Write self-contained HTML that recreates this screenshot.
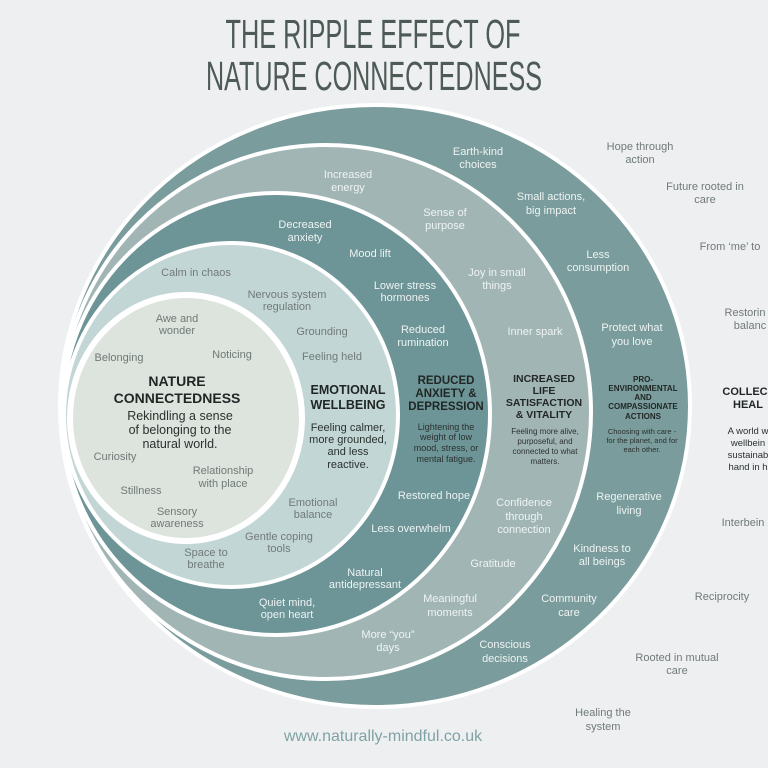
<!DOCTYPE html>
<html><head><meta charset="utf-8"><style>
html,body{margin:0;padding:0;background:#eeeff1;}
svg{display:block;font-family:"Liberation Sans",sans-serif;}
.g{fill:#707a78;font-size:11px;text-anchor:middle}
.w{fill:#eef3f3;font-size:11px;text-anchor:middle}
.h{fill:#1f2624;font-weight:bold;text-anchor:middle}
.d{fill:#2a3230;text-anchor:middle}
</style></head><body>
<svg width="768" height="768" viewBox="0 0 768 768">
<rect width="768" height="768" fill="#eeeff1"/>
<text x="373" y="48" font-size="41" fill="#4d5a55" text-anchor="middle" textLength="295" lengthAdjust="spacingAndGlyphs">THE RIPPLE EFFECT OF</text>
<text x="374" y="90" font-size="41" fill="#4d5a55" text-anchor="middle" textLength="336" lengthAdjust="spacingAndGlyphs">NATURE CONNECTEDNESS</text>

<ellipse cx="375" cy="406" rx="315" ry="301" fill="#7b9c9c" stroke="#fff" stroke-width="4"/>
<ellipse cx="326" cy="412" rx="265" ry="267" fill="#a2b5b5" stroke="#fff" stroke-width="4"/>
<ellipse cx="276" cy="414" rx="214" ry="221" fill="#6d9496" stroke="#fff" stroke-width="4"/>
<ellipse cx="231" cy="415" rx="167" ry="172" fill="#c3d6d6" stroke="#fff" stroke-width="4"/>
<ellipse cx="186" cy="418" rx="116" ry="123" fill="#dde3dd" stroke="#fff" stroke-width="6"/>

<!-- outer labels -->
<g class="g" font-size="11.5">
<text x="640" y="150">Hope through</text><text x="640" y="163">action</text>
<text x="705" y="190">Future rooted in</text><text x="705" y="203">care</text>
<text x="730" y="250">From ‘me’ to</text>
<text x="745" y="316">Restorin</text><text x="750" y="329">balanc</text>
<text x="743" y="526">Interbein</text>
<text x="722" y="600">Reciprocity</text>
<text x="677" y="661">Rooted in mutual</text><text x="677" y="674">care</text>
<text x="603" y="716">Healing the</text><text x="603" y="730">system</text>
</g>
<text x="745" y="395" class="h" font-size="11">COLLEC</text>
<text x="748" y="408" class="h" font-size="11">HEAL</text>
<g class="d" font-size="9.5">
<text x="748" y="434">A world w</text><text x="748" y="446">wellbein</text><text x="748" y="458">sustainab</text><text x="748" y="470">hand in h</text>
</g>

<!-- pro-env ring -->
<g class="w" font-size="11.5">
<text x="478" y="155">Earth-kind</text><text x="478" y="168">choices</text>
<text x="551" y="200">Small actions,</text><text x="551" y="214">big impact</text>
<text x="598" y="258">Less</text><text x="598" y="271">consumption</text>
<text x="632" y="331">Protect what</text><text x="632" y="345">you love</text>
<text x="629" y="500">Regenerative</text><text x="629" y="514">living</text>
<text x="602" y="552">Kindness to</text><text x="602" y="565">all beings</text>
<text x="569" y="602">Community</text><text x="569" y="616">care</text>
<text x="505" y="648">Conscious</text><text x="505" y="662">decisions</text>
</g>
<g class="h" font-size="8">
<text x="643" y="382">PRO-</text><text x="643" y="391">ENVIRONMENTAL</text><text x="643" y="400">AND</text><text x="643" y="409">COMPASSIONATE</text><text x="643" y="419">ACTIONS</text>
</g>
<g class="d" font-size="7.5">
<text x="642" y="434">Choosing with care -</text><text x="642" y="443">for the planet, and for</text><text x="642" y="452">each other.</text>
</g>

<!-- life satisfaction ring -->
<g class="w" font-size="11.5">
<text x="348" y="178">Increased</text><text x="348" y="191">energy</text>
<text x="445" y="216">Sense of</text><text x="445" y="229">purpose</text>
<text x="497" y="276">Joy in small</text><text x="497" y="289">things</text>
<text x="535" y="335">Inner spark</text>
<text x="524" y="506">Confidence</text><text x="524" y="520">through</text><text x="524" y="533">connection</text>
<text x="493" y="567">Gratitude</text>
<text x="450" y="602">Meaningful</text><text x="450" y="616">moments</text>
<text x="388" y="638">More “you”</text><text x="388" y="651">days</text>
</g>
<g class="h" font-size="10.5">
<text x="544" y="382">INCREASED</text><text x="544" y="394">LIFE</text><text x="544" y="406">SATISFACTION</text><text x="544" y="418">&amp; VITALITY</text>
</g>
<g class="d" font-size="8">
<text x="545" y="434">Feeling more alive,</text><text x="545" y="444">purposeful, and</text><text x="545" y="454">connected to what</text><text x="545" y="464">matters.</text>
</g>

<!-- reduced anxiety ring -->
<g class="w" font-size="11">
<text x="305" y="228">Decreased</text><text x="305" y="241">anxiety</text>
<text x="370" y="257">Mood lift</text>
<text x="405" y="289">Lower stress</text><text x="405" y="301">hormones</text>
<text x="423" y="333">Reduced</text><text x="423" y="346">rumination</text>
<text x="434" y="499">Restored hope</text>
<text x="411" y="532">Less overwhelm</text>
<text x="365" y="576">Natural</text><text x="365" y="588">antidepressant</text>
<text x="287" y="606">Quiet mind,</text><text x="287" y="618">open heart</text>
</g>
<g class="h" font-size="11.5">
<text x="446" y="384">REDUCED</text><text x="446" y="397">ANXIETY &amp;</text><text x="446" y="410">DEPRESSION</text>
</g>
<g class="d" font-size="9">
<text x="446" y="430">Lightening the</text><text x="446" y="440">weight of low</text><text x="446" y="451">mood, stress, or</text><text x="446" y="462">mental fatigue.</text>
</g>

<!-- emotional ring -->
<g class="g" font-size="11">
<text x="196" y="276">Calm in chaos</text>
<text x="287" y="298">Nervous system</text><text x="287" y="310">regulation</text>
<text x="322" y="335">Grounding</text>
<text x="332" y="360">Feeling held</text>
<text x="313" y="506">Emotional</text><text x="313" y="518">balance</text>
<text x="279" y="540">Gentle coping</text><text x="279" y="552">tools</text>
<text x="206" y="556">Space to</text><text x="206" y="568">breathe</text>
</g>
<g class="h" font-size="12.5">
<text x="348" y="394">EMOTIONAL</text><text x="348" y="409">WELLBEING</text>
</g>
<g class="d" font-size="11">
<text x="348" y="431">Feeling calmer,</text><text x="348" y="443">more grounded,</text><text x="348" y="455">and less</text><text x="348" y="468">reactive.</text>
</g>

<!-- nature core -->
<g class="g" font-size="11">
<text x="177" y="322">Awe and</text><text x="177" y="334">wonder</text>
<text x="119" y="361">Belonging</text>
<text x="232" y="358">Noticing</text>
<text x="115" y="460">Curiosity</text>
<text x="223" y="474">Relationship</text><text x="223" y="487">with place</text>
<text x="141" y="494">Stillness</text>
<text x="177" y="515">Sensory</text><text x="177" y="527">awareness</text>
</g>
<g class="h" font-size="14">
<text x="177" y="386">NATURE</text><text x="177" y="403">CONNECTEDNESS</text>
</g>
<g class="d" font-size="12.5">
<text x="180" y="420">Rekindling a sense</text><text x="180" y="434">of belonging to the</text><text x="180" y="448">natural world.</text>
</g>

<text x="383" y="741" fill="#7fa3a4" font-size="16" text-anchor="middle">www.naturally-mindful.co.uk</text>
</svg>
</body></html>
